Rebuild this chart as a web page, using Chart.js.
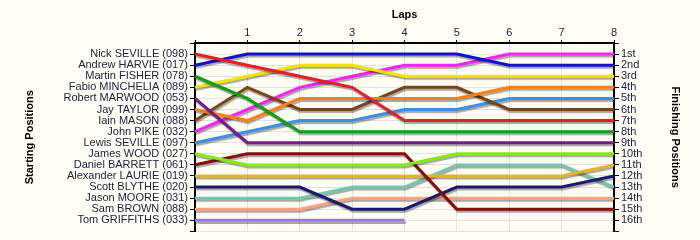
<!DOCTYPE html>
<html>
<head>
<meta charset="utf-8">
<script src="https://cdn.jsdelivr.net/npm/chart.js@4/dist/chart.umd.min.js"></script>
<style>
  html, body { margin: 0; padding: 0; background: #fffef4; }
  #wrap { width: 700px; height: 240px; }
</style>
</head>
<body>
<div id="wrap"><canvas id="laps-chart"></canvas></div>
<script>
    "use strict";

    // Data
    var laps = [0, 1, 2, 3, 4, 5, 6, 7, 8];
    var drivers = ["Nick SEVILLE (098)", "Andrew HARVIE (017)", "Martin FISHER (078)", "Fabio MINCHELIA (089)",
        "Robert MARWOOD (053)", "Jay TAYLOR (099)", "Iain MASON (088)", "John PIKE (032)",
        "Lewis SEVILLE (097)", "James WOOD (027)", "Daniel BARRETT (061)", "Alexander LAURIE (019)",
        "Scott BLYTHE (020)", "Jason MOORE (031)", "Sam BROWN (088)", "Tom GRIFFITHS (033)"];
    var finishLabels = ["1st", "2nd", "3rd", "4th", "5th", "6th", "7th", "8th",
        "9th", "10th", "11th", "12th", "13th", "14th", "15th", "16th"];

    var posSeville = [1, 2, 3, 4, 7, 7, 7, 7, 7];
    var posHarvie = [2, 1, 1, 1, 1, 1, 2, 2, 2];
    var posFisher = [3, 5, 8, 8, 8, 8, 8, 8, 8];
    var posMinchelia = [4, 3, 2, 2, 3, 3, 3, 3, 3];
    var posMarwood = [5, 9, 9, 9, 9, 9, 9, 9, 9];
    var posTaylor = [6, 7, 5, 5, 5, 5, 4, 4, 4];
    var posMason = [7, 4, 6, 6, 4, 4, 6, 6, 6];
    var posPike = [8, 6, 4, 3, 2, 2, 1, 1, 1];
    var posLSeville = [9, 8, 7, 7, 6, 6, 5, 5, 5];
    var posWood = [10, 11, 11, 11, 11, 10, 10, 10, 10];
    var posBarrett = [11, 10, 10, 10, 10, 15, 15, 15, 15];
    var posLaurie = [12, 12, 12, 12, 12, 12, 12, 12, 11];
    var posBlythe = [13, 13, 13, 15, 15, 13, 13, 13, 12];
    var posMoore = [14, 14, 14, 13, 13, 11, 11, 11, 13];
    var posBrown = [15, 15, 15, 14, 14, 14, 14, 14, 14];
    var posGriffiths = [16, 16, 16, 16, 16, null, null, null, null];

    var series = [posSeville, posHarvie, posFisher, posMinchelia, posMarwood, posTaylor, posMason, posPike,
        posLSeville, posWood, posBarrett, posLaurie, posBlythe, posMoore, posBrown, posGriffiths];
    var colors = ["#ec1c24", "#1010d0", "#10a010", "#f5e400", "#7a1a8a", "#ff8010", "#7b4513", "#ff20ff",
        "#3c8ee6", "#80ee10", "#8c0a0a", "#e6b422", "#1a1a6e", "#70c8b0", "#ffa080", "#9a7ad8"];

    var textColor = "#222244";
    var gridColor = "#e2e2e2";

    var datasets = series.map(function (s, i) {
        return {
            label: drivers[i],
            data: laps.map(function (l, j) { return {x: l, y: s[j]}; }),
            borderColor: colors[i],
            backgroundColor: colors[i],
            borderWidth: 3,
            pointRadius: 0,
            tension: 0,
            fill: false,
            spanGaps: false
        };
    });

    // Grey drop shadow under the lines
    var lineShadow = {
        id: "lineShadow",
        beforeDatasetsDraw: function (chart) {
            var ctx = chart.ctx;
            ctx.save();
            ctx.shadowColor = "rgba(0, 0, 0, 0.35)";
            ctx.shadowOffsetX = 1;
            ctx.shadowOffsetY = 2;
            ctx.shadowBlur = 1;
        },
        afterDatasetsDraw: function (chart) {
            chart.ctx.restore();
        }
    };

    function posTicks(scale) {
        scale.ticks = [];
        for (var v = 0; v <= 17; v++) scale.ticks.push({value: v});
    }

    var ctx = document.getElementById("laps-chart").getContext("2d");
    var myChart = new Chart(ctx, {
        type: "line",
        data: {datasets: datasets},
        plugins: [lineShadow],
        options: {
            responsive: true,
            maintainAspectRatio: false,
            animation: false,
            layout: {padding: {top: 0, left: 0, right: 0, bottom: 8}},
            plugins: {legend: {display: false}, tooltip: {enabled: false}},
            scales: {
                x: {
                    type: "linear",
                    position: "top",
                    min: 0,
                    max: 8,
                    afterFit: function (scale) { scale.height = 43; },
                    title: {
                        display: true,
                        text: "Laps",
                        color: "#000",
                        font: {family: "Liberation Sans", size: 11, weight: "bold"},
                        padding: {top: 8, bottom: 0}
                    },
                    ticks: {
                        stepSize: 1,
                        color: textColor,
                        padding: 0,
                        font: {family: "Liberation Sans", size: 11},
                        callback: function (v) { return v === 0 ? "" : v; }
                    },
                    grid: {color: gridColor, tickColor: "#000", tickLength: 3},
                    border: {color: "#000", width: 2}
                },
                y: {
                    type: "linear",
                    position: "left",
                    min: 0,
                    max: 17,
                    reverse: true,
                    afterBuildTicks: posTicks,
                    afterFit: function (scale) { scale.width = 195; },
                    title: {
                        display: true,
                        text: "Starting Positions",
                        color: "#000",
                        font: {family: "Liberation Sans", size: 11, weight: "bold"},
                        padding: {top: 23, bottom: 0}
                    },
                    ticks: {
                        autoSkip: false,
                        color: textColor,
                        padding: 2,
                        font: {family: "Liberation Sans", size: 11},
                        callback: function (v) { return drivers[v - 1] || ""; }
                    },
                    grid: {color: gridColor, tickColor: "#000", tickLength: 5},
                    border: {color: "#000", width: 2}
                },
                y2: {
                    type: "linear",
                    position: "right",
                    min: 0,
                    max: 17,
                    reverse: true,
                    afterBuildTicks: posTicks,
                    afterFit: function (scale) { scale.width = 86; },
                    title: {
                        display: true,
                        text: "Finishing Positions",
                        color: "#000",
                        font: {family: "Liberation Sans", size: 11, weight: "bold"},
                        padding: {top: 18, bottom: 0}
                    },
                    ticks: {
                        autoSkip: false,
                        color: textColor,
                        padding: 2,
                        font: {family: "Liberation Sans", size: 11},
                        callback: function (v) { return finishLabels[v - 1] || ""; }
                    },
                    grid: {drawOnChartArea: false, tickColor: "#000", tickLength: 5},
                    border: {color: "#000", width: 2}
                }
            }
        }
    });
</script>
</body>
</html>
